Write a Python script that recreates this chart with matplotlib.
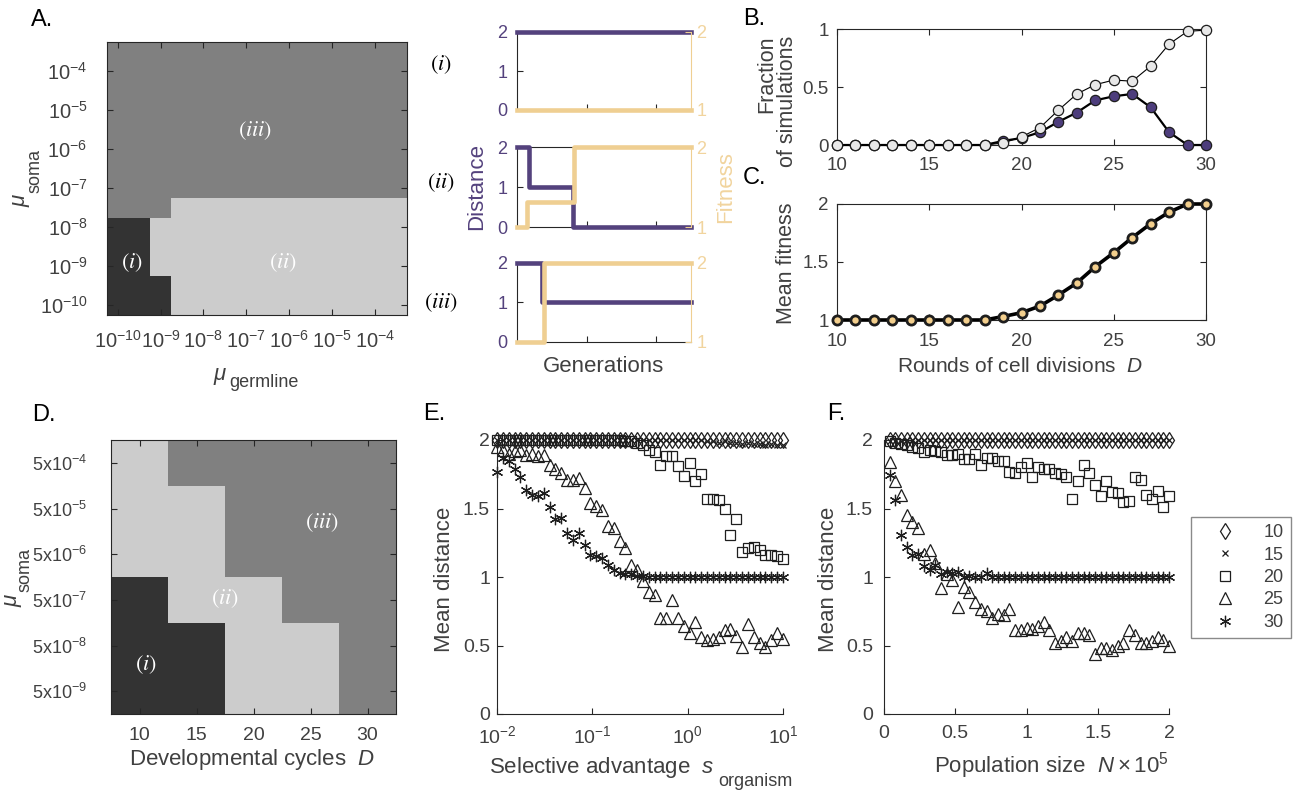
import numpy as np
import matplotlib
matplotlib.use('Agg')
import matplotlib.pyplot as plt
from matplotlib.colors import ListedColormap, BoundaryNorm
from matplotlib.lines import Line2D
from matplotlib.ticker import NullLocator

W, H = 1293, 793
plt.rcParams.update({
    'font.family': ['Liberation Sans', 'DejaVu Sans'],
    'font.size': 13,
    'mathtext.fontset': 'custom',
    'mathtext.rm': 'Liberation Sans',
    'mathtext.it': 'Liberation Sans:italic',
    'mathtext.bf': 'Liberation Sans:bold',
    'axes.edgecolor': '#262626',
    'axes.linewidth': 0.8,
    'xtick.direction': 'in', 'ytick.direction': 'in',
    'xtick.color': '#262626', 'ytick.color': '#262626',
    'xtick.labelcolor': '#404040', 'ytick.labelcolor': '#404040',
    'xtick.major.size': 4, 'ytick.major.size': 4,
    'xtick.major.width': 0.8, 'ytick.major.width': 0.8,
    'axes.labelcolor': '#404040', 'text.color': '#404040',
})

# ---------------- data ----------------
REGIME_COLORS = ['#333333', '#cccccc', '#808080']   # (i), (ii), (iii)

# Panel A: log10 of mutation rates (cell centres)
germline_exp = [-10.0, -9.5, -9.0, -8.5, -8.0, -7.5, -7.0, -6.5, -6.0, -5.5, -5.0, -4.5, -4.0, -3.5]
soma_exp = [-10.0, -9.5, -9.0, -8.5, -8.0, -7.5, -7.0, -6.5, -6.0, -5.5, -5.0, -4.5, -4.0, -3.5]
regime_A = [
    [1, 1, 1, 2, 2, 2, 2, 2, 2, 2, 2, 2, 2, 2],
    [1, 1, 1, 2, 2, 2, 2, 2, 2, 2, 2, 2, 2, 2],
    [1, 1, 2, 2, 2, 2, 2, 2, 2, 2, 2, 2, 2, 2],
    [1, 1, 2, 2, 2, 2, 2, 2, 2, 2, 2, 2, 2, 2],
    [1, 1, 2, 2, 2, 2, 2, 2, 2, 2, 2, 2, 2, 2],
    [3, 3, 3, 2, 2, 2, 2, 2, 2, 2, 2, 2, 2, 2],
    [3, 3, 3, 3, 3, 3, 3, 3, 3, 3, 3, 3, 3, 3],
    [3, 3, 3, 3, 3, 3, 3, 3, 3, 3, 3, 3, 3, 3],
    [3, 3, 3, 3, 3, 3, 3, 3, 3, 3, 3, 3, 3, 3],
    [3, 3, 3, 3, 3, 3, 3, 3, 3, 3, 3, 3, 3, 3],
    [3, 3, 3, 3, 3, 3, 3, 3, 3, 3, 3, 3, 3, 3],
    [3, 3, 3, 3, 3, 3, 3, 3, 3, 3, 3, 3, 3, 3],
    [3, 3, 3, 3, 3, 3, 3, 3, 3, 3, 3, 3, 3, 3],
    [3, 3, 3, 3, 3, 3, 3, 3, 3, 3, 3, 3, 3, 3],
]
A_ticks = [1e-10, 1e-9, 1e-8, 1e-7, 1e-6, 1e-5, 1e-4]
A_ticklabels = [r'$10^{-10}$', r'$10^{-9}$', r'$10^{-8}$', r'$10^{-7}$',
                r'$10^{-6}$', r'$10^{-5}$', r'$10^{-4}$']

# Small trajectory panels (generations in arbitrary units)
gen_i_d, dist_i = [0, 1], [2, 2]
gen_i_f, fit_i = [0, 1], [1, 1]
gen_ii_d, dist_ii = [0, 0.067, 0.32, 1], [2, 1, 0, 0]
gen_ii_f, fit_ii = [0, 0.06, 0.325, 1], [1, 1.31, 2, 2]
gen_iii_d, dist_iii = [0, 0.144, 1], [2, 1, 1]
gen_iii_f, fit_iii = [0, 0.155, 1], [1, 2, 2]

# Panels B, C
D_rounds = [10, 11, 12, 13, 14, 15, 16, 17, 18, 19, 20, 21, 22, 23, 24, 25, 26, 27, 28, 29, 30]
frac_purple = [0, 0, 0, 0, 0, 0, 0, 0, 0, 0.035, 0.06, 0.11, 0.20, 0.28, 0.385, 0.42, 0.44, 0.325, 0.11, 0.0, 0.0]
frac_gray = [0, 0, 0, 0, 0, 0, 0, 0, 0, 0.017, 0.07, 0.15, 0.30, 0.44, 0.52, 0.56, 0.55, 0.68, 0.87, 0.98, 0.99]
mean_fitness = [1.0, 1.0, 1.0, 1.0, 1.0, 1.0, 1.0, 1.0, 1.0, 1.03, 1.063, 1.12, 1.215, 1.32, 1.46, 1.58, 1.71, 1.83, 1.93, 2.0, 2.0]

# Panel D
D_cycles = [10, 15, 20, 25, 30]
soma_D = [5e-9, 5e-8, 5e-7, 5e-6, 5e-5, 5e-4]
regime_D = [
    [1, 1, 2, 2, 3],
    [1, 1, 2, 2, 3],
    [1, 2, 2, 3, 3],
    [2, 2, 3, 3, 3],
    [2, 2, 3, 3, 3],
    [2, 3, 3, 3, 3],
]
D_yticklabels = [r'$5\mathrm{x}10^{-9}$', r'$5\mathrm{x}10^{-8}$', r'$5\mathrm{x}10^{-7}$',
                 r'$5\mathrm{x}10^{-6}$', r'$5\mathrm{x}10^{-5}$', r'$5\mathrm{x}10^{-4}$']

# Panel E (50 log-spaced values of s_organism from 0.01 to 10)
s_org = np.logspace(-2, 1, 50)
E_10 = [2.0] * 50
E_15 = [2.0] * 35 + [2.0, 1.99, 1.99, 1.98, 1.99, 1.98, 1.98, 1.97, 1.98, 1.97, 1.97, 1.96, 1.97, 1.96, 1.96]
E_20 = [2.0] * 22 + [1.99, 1.99, 1.98, 1.96, 1.93, 1.91, 1.82, 1.88, 1.88, 1.81, 1.74, 1.83, 1.70, 1.75,
                     1.57, 1.57, 1.56, 1.50, 1.31, 1.42, 1.18, 1.21, 1.22, 1.20, 1.16, 1.16, 1.15, 1.13]
E_25 = [1.95, 1.93, 1.90, 1.92, 1.93, 1.89, 1.90, 1.88, 1.89, 1.82, 1.79, 1.76, 1.71, 1.71, 1.72, 1.65,
        1.54, 1.52, 1.49, 1.37, 1.36, 1.26, 1.21, 1.09, 1.05, 0.97, 0.89, 0.87, 0.70, 0.70, 0.83, 0.70,
        0.64, 0.59, 0.67, 0.56, 0.54, 0.55, 0.565, 0.61, 0.62, 0.57, 0.49, 0.66, 0.56, 0.52, 0.49, 0.54,
        0.59, 0.55]
E_30 = [1.77, 1.87, 1.85, 1.79, 1.73, 1.635, 1.60, 1.59, 1.61, 1.51, 1.42, 1.43, 1.32, 1.27, 1.32, 1.23,
        1.16, 1.15, 1.14, 1.09, 1.05, 1.03, 1.02, 1.02, 1.01, 1.01] + [1.0] * 24

# Panel F (population size N x 1e5)
N_pop = np.arange(1, 51) * 0.04
F_10 = [2.0] * 50
F_15 = [1.99, 1.99, 1.99] + [2.0] * 47
F_20 = [1.99, 1.98, 1.97, 1.96, 1.95, 1.94, 1.91, 1.93, 1.92, 1.91, 1.89, 1.89, 1.90, 1.86, 1.86, 1.90,
        1.82, 1.87, 1.87, 1.85, 1.85, 1.77, 1.76, 1.80, 1.83, 1.73, 1.80, 1.79, 1.79, 1.76, 1.75, 1.73,
        1.57, 1.70, 1.82, 1.76, 1.67, 1.59, 1.70, 1.62, 1.61, 1.55, 1.555, 1.73, 1.71, 1.60, 1.57, 1.63,
        1.51, 1.59]
F_25 = [1.84, 1.70, 1.60, 1.45, 1.40, 1.355, 1.17, 1.20, 1.10, 0.92, 1.02, 0.98, 0.78, 0.93, 0.89, 0.82,
        0.77, 0.75, 0.70, 0.73, 0.72, 0.77, 0.61, 0.61, 0.625, 0.62, 0.64, 0.67, 0.61, 0.52, 0.535, 0.565,
        0.53, 0.59, 0.59, 0.58, 0.44, 0.48, 0.48, 0.47, 0.50, 0.52, 0.61, 0.58, 0.52, 0.52, 0.53, 0.565,
        0.54, 0.50]
F_30 = [1.745, 1.56, 1.31, 1.22, 1.16, 1.17, 1.08, 1.05, 1.09, 1.02, 1.04, 1.03, 1.04, 1.0, 1.01, 1.0,
        1.0, 1.03] + [1.0] * 32

legend_labels = ['10', '15', '20', '25', '30']

# ---------------- styles ----------------
PURPLE = '#54427d'
TAN = '#efcf92'
TAN_TXT = '#f1d49e'
GREY_TXT = '#404040'
EDGE = '#1e1e1e'
marker_styles = [
    dict(marker='d', ms=8.2),
    dict(marker='x', ms=5),
    dict(marker='s', ms=6.6),
    dict(marker='^', ms=8.5),
    dict(marker=(6, 2, 0), ms=8.2),
]

fig = plt.figure(figsize=(W / 100, H / 100), dpi=100)


def add_ax(l, t, r, b):
    return fig.add_axes([l / W, 1 - b / H, (r - l) / W, (b - t) / H])


def ftext(x, y, s, **kw):
    kw.setdefault('ha', 'center')
    kw.setdefault('va', 'center')
    return fig.text(x / W, 1 - y / H, s, **kw)


cmap = ListedColormap(REGIME_COLORS)
norm = BoundaryNorm([0.5, 1.5, 2.5, 3.5], 3)


def edges_from_centres(c, half):
    c = np.asarray(c, float)
    return np.r_[c - half, c[-1] + half]


# ---------------- Panel A ----------------
axA = add_ax(107, 42, 407, 315)
gx = 10.0 ** edges_from_centres(germline_exp, 0.25)
gy = 10.0 ** edges_from_centres(soma_exp, 0.25)
axA.pcolormesh(gx, gy, np.array(regime_A), cmap=cmap, norm=norm, shading='flat')
axA.set_xscale('log'); axA.set_yscale('log')
axA.set_xlim(gx[0], gx[-1]); axA.set_ylim(gy[0], gy[-1])
axA.set_xticks(A_ticks, labels=A_ticklabels)
axA.set_yticks(A_ticks, labels=A_ticklabels)
axA.xaxis.set_minor_locator(NullLocator()); axA.yaxis.set_minor_locator(NullLocator())
axA.tick_params(top=True, right=True, labelsize=14.5)
axA.tick_params(axis='x', pad=11)
axA.tick_params(axis='y', pad=14)
rl = dict(color='white', fontsize=16, math_fontfamily='stix')
ftext(255, 131, r'$(iii)$', **rl)
ftext(132, 263, r'$(i)$', **rl)
ftext(283, 263, r'$(ii)$', **rl)
ftext(220, 376, r'$\mu$', fontsize=16, color=GREY_TXT)
ftext(264, 382, 'germline', fontsize=13, color=GREY_TXT)
ftext(22, 200, r'$\mu$', fontsize=16, color=GREY_TXT, rotation=90)
ftext(35, 171, 'soma', fontsize=13, color=GREY_TXT, rotation=90)
ftext(31, 20, 'A.', fontsize=17, color='black', ha='left')

# ---------------- trajectory panels ----------------
traj = [
    ((32, 110), gen_i_d, dist_i, gen_i_f, fit_i, r'$(i)$', 65),
    ((147, 227), gen_ii_d, dist_ii, gen_ii_f, fit_ii, r'$(ii)$', 183),
    ((263, 342), gen_iii_d, dist_iii, gen_iii_f, fit_iii, r'$(iii)$', 303),
]
for (t, b), gd, dv, gf, fv, lab, ly in traj:
    ax = add_ax(517, t, 691, b)
    ax.set_xlim(0, 1); ax.set_ylim(0, 2)
    ax.step(gd, dv, where='post', color=PURPLE, lw=3.3, clip_on=False, zorder=3)
    ax.set_yticks([0, 1, 2])
    ax.set_xticks([0.4, 0.8], labels=[])
    ax.tick_params(axis='y', labelcolor=PURPLE, labelsize=13, length=4, pad=7)
    ax.tick_params(axis='x', length=4)
    ax.spines['right'].set_visible(False)
    ax2 = ax.twinx()
    ax2.set_ylim(1, 2)
    ax2.step(gf, fv, where='post', color=TAN, lw=3.3, clip_on=False, zorder=3)
    ax2.set_yticks([1, 2])
    ax2.tick_params(axis='y', colors=TAN, labelsize=13, length=4, pad=4)
    ax2.tick_params(axis='y', labelcolor=TAN_TXT)
    for s in ['left', 'top', 'bottom']:
        ax2.spines[s].set_visible(False)
    ax2.spines['right'].set_color(TAN)
    ftext(441, ly, lab, fontsize=16, color='black', math_fontfamily='stix')

ftext(477, 187, 'Distance', fontsize=16, color=PURPLE, rotation=90)
ftext(726, 187, 'Fitness', fontsize=16, color=TAN_TXT, rotation=90)
ftext(604, 366, 'Generations', fontsize=16, color=GREY_TXT)

# ---------------- Panel B ----------------
axB = add_ax(837, 29, 1206, 145)
axB.plot(D_rounds, frac_purple, '-', color='black', lw=1.6, marker='o', ms=7.4,
         mfc='#4d3d7c', mec=EDGE, mew=0.9, clip_on=False, zorder=3)
axB.plot(D_rounds, frac_gray, '-', color='black', lw=0.8, marker='o', ms=7.4,
         mfc='#e8e8e8', mec=EDGE, mew=0.9, clip_on=False, zorder=4)
axB.set_xlim(10, 30); axB.set_ylim(0, 1)
axB.set_xticks([10, 15, 20, 25, 30])
axB.set_yticks([0, 0.5, 1], labels=['0', '0.5', '1'])
axB.tick_params(top=True, right=True, labelsize=13.5)
axB.tick_params(axis='x', pad=9)
axB.tick_params(axis='y', pad=6)
ftext(777, 101, 'Fraction\nof simulations', fontsize=15.5, rotation=90,
      multialignment='right', linespacing=0.95, color=GREY_TXT)
ftext(743, 19, 'B.', fontsize=17, color='black', ha='left')

# ---------------- Panel C ----------------
axC = add_ax(837, 204, 1206, 320)
axC.plot(D_rounds, mean_fitness, '-', color='black', lw=2.6, marker='o', ms=6.6,
         mfc='#f3cf8d', mec=EDGE, mew=2.0, clip_on=False, zorder=3)
axC.set_xlim(10, 30); axC.set_ylim(1, 2)
axC.set_xticks([10, 15, 20, 25, 30])
axC.set_yticks([1, 1.5, 2], labels=['1', '1.5', '2'])
axC.tick_params(top=True, right=True, labelsize=13.5)
axC.tick_params(axis='x', pad=9)
axC.tick_params(axis='y', pad=6)
ftext(787, 263, 'Mean fitness', fontsize=15.5, rotation=90, color=GREY_TXT)
ftext(1020, 367, r'Rounds of cell divisions  $D$', fontsize=15, color=GREY_TXT)
ftext(743, 178, 'C.', fontsize=17, color='black', ha='left')

# ---------------- Panel D ----------------
axD = add_ax(111, 440, 396, 714)
dx = edges_from_centres(D_cycles, 2.5)
dy = 10.0 ** edges_from_centres(np.log10(soma_D), 0.5)
axD.pcolormesh(dx, dy, np.array(regime_D), cmap=cmap, norm=norm, shading='flat')
axD.set_yscale('log')
axD.set_xlim(dx[0], dx[-1]); axD.set_ylim(dy[0], dy[-1])
axD.set_xticks(D_cycles)
axD.set_yticks(soma_D, labels=D_yticklabels)
axD.yaxis.set_minor_locator(NullLocator())
axD.tick_params(top=True, right=True)
axD.tick_params(axis='x', labelsize=14, pad=9)
axD.tick_params(axis='y', labelsize=13, pad=17)
ftext(252, 760, r'Developmental cycles  $D$', fontsize=16, color=GREY_TXT)
ftext(322, 523, r'$(iii)$', **rl)
ftext(225, 599, r'$(ii)$', **rl)
ftext(146, 665, r'$(i)$', **rl)
ftext(13, 600, r'$\mu$', fontsize=16, color=GREY_TXT, rotation=90)
ftext(25, 570, 'soma', fontsize=13, color=GREY_TXT, rotation=90)
ftext(32, 415, 'D.', fontsize=17, color='black', ha='left')


def scatter_panel(ax, x, series, ylab_x):
    handles = []
    for y, st in zip(series, marker_styles):
        h, = ax.plot(x, y, ls='none', mfc='none', mec=EDGE, mew=0.9, clip_on=False, **st)
        handles.append(h)
    ax.set_ylim(0, 2)
    ax.set_yticks([0, 0.5, 1, 1.5, 2], labels=['0', '0.5', '1', '1.5', '2'])
    ax.spines['top'].set_visible(False); ax.spines['right'].set_visible(False)
    ax.tick_params(labelsize=14)
    ax.tick_params(axis='x', pad=8)
    ftext(ylab_x, 579, 'Mean distance', fontsize=16, rotation=90, color=GREY_TXT)
    return handles


# ---------------- Panel E ----------------
axE = add_ax(497, 440, 783, 714)
scatter_panel(axE, s_org, [E_10, E_15, E_20, E_25, E_30], 445)
axE.tick_params(axis='y', pad=5)
axE.set_xscale('log')
axE.set_xlim(0.01, 10)
axE.set_xticks([0.01, 0.1, 1, 10], labels=[r'$10^{-2}$', r'$10^{-1}$', r'$10^{0}$', r'$10^{1}$'])
axE.xaxis.set_minor_locator(NullLocator())
ftext(602, 768, r'Selective advantage  $s$', fontsize=16, color=GREY_TXT)
ftext(755, 782, 'organism', fontsize=13, color=GREY_TXT)
ftext(423, 414, 'E.', fontsize=17, color='black', ha='left')

# ---------------- Panel F ----------------
axF = add_ax(884, 440, 1169, 714)
scatter_panel(axF, N_pop, [F_10, F_15, F_20, F_25, F_30], 828)
axF.tick_params(axis='y', pad=8)
axF.set_xlim(0, 2)
axF.set_xticks([0, 0.5, 1, 1.5, 2], labels=['0', '0.5', '1', '1.5', '2'])
ftext(1051, 766, r'Population size  $N\times10^{5}$', fontsize=16, color=GREY_TXT)
ftext(827, 414, 'F.', fontsize=17, color='black', ha='left')

leg_handles = [Line2D([], [], ls='none', mfc='none', mec=EDGE, mew=0.9, **st) for st in marker_styles]
leg = fig.legend(leg_handles, legend_labels, loc='upper left',
                 bbox_to_anchor=(1191 / W, 1 - 517 / H), bbox_transform=fig.transFigure,
                 fontsize=13, frameon=True, fancybox=False, edgecolor='#8a8a8a',
                 framealpha=1, borderpad=0.4, handlelength=3.0, handletextpad=0.6,
                 labelspacing=0.3, borderaxespad=0, numpoints=1)
leg.get_frame().set_linewidth(1.0)

fig.savefig('out.png', dpi=100)
